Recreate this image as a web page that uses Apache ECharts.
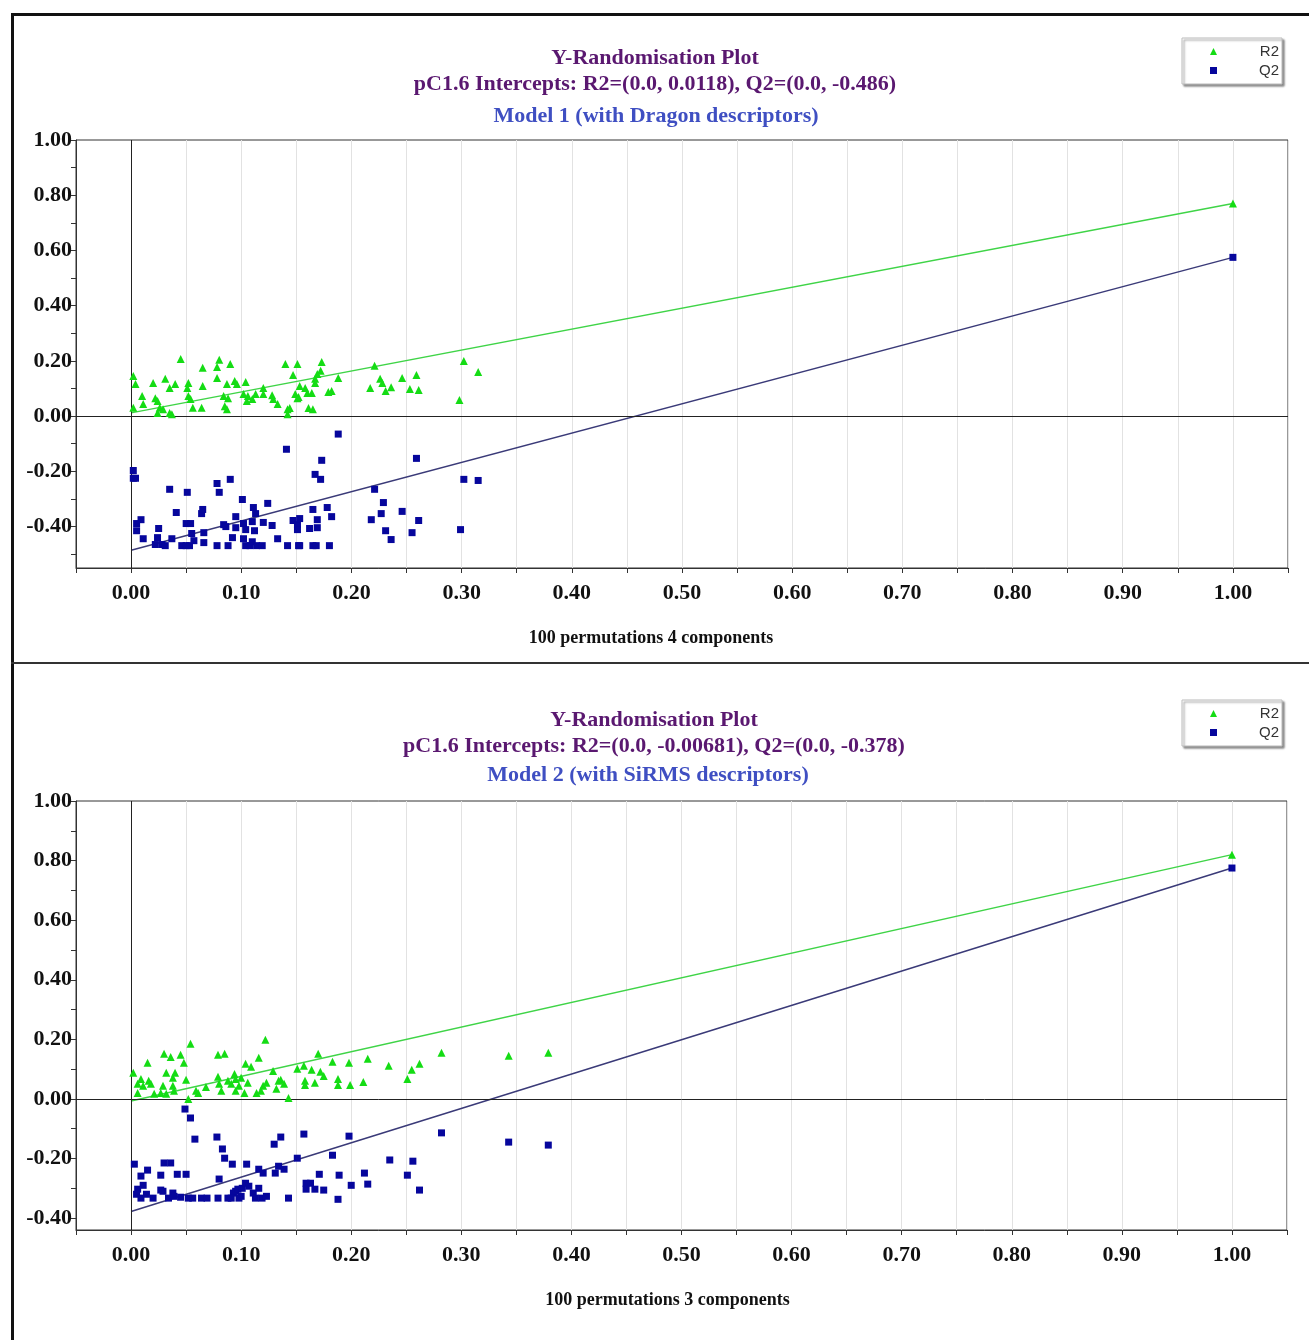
<!DOCTYPE html>
<html>
<head>
<meta charset="utf-8">
<script src="https://cdn.jsdelivr.net/npm/echarts@6/dist/echarts.min.js"></script>
<style>
  html, body { margin: 0; padding: 0; background: #fff; }
  #main { width: 1309px; height: 1340px; }
</style>
</head>
<body>
<div id="main"></div>
<script>
// --- data ---
const yLabelsTop = [-0.4, -0.2, 0, 0.2, 0.4, 0.6, 0.8, 1.0]
const yTicksTop = [-0.5, -0.4, -0.3, -0.2, -0.1, 0, 0.1, 0.2, 0.3, 0.4, 0.5, 0.6, 0.7, 0.8, 0.9, 1.0]
const yLabelsBottom = [-0.4, -0.2, 0, 0.2, 0.4, 0.6, 0.8, 1.0]
const yTicksBottom = [-0.4, -0.3, -0.2, -0.1, 0, 0.1, 0.2, 0.3, 0.4, 0.5, 0.6, 0.7, 0.8, 0.9, 1.0]

// model 1 (Dragon): intercepts and original model values
const r2InterceptTop = 0.0118
const q2InterceptTop = -0.486
const r2OrigTop = 0.77
const q2OrigTop = 0.575
// model 2 (SiRMS)
const r2InterceptBottom = -0.00681
const q2InterceptBottom = -0.378
const r2OrigBottom = 0.82
const q2OrigBottom = 0.775

const r2Top = [[0.002,0.145],[0.004,0.116],[0.045,0.207],[0.080,0.204],[0.090,0.189],[0.065,0.175],[0.078,0.178],[0.078,0.138],[0.031,0.135],[0.020,0.120],[0.040,0.116],[0.035,0.102],[0.052,0.120],[0.051,0.102],[0.065,0.109],[0.087,0.116],[0.094,0.127],[0.096,0.116],[0.104,0.124],[0.120,0.102],[0.010,0.073],[0.022,0.065],[0.024,0.055],[0.011,0.044],[0.002,0.030],[0.026,0.030],[0.029,0.025],[0.035,0.011],[0.024,0.011],[0.037,0.007],[0.052,0.073],[0.054,0.062],[0.056,0.030],[0.064,0.030],[0.084,0.073],[0.088,0.065],[0.085,0.036],[0.087,0.025],[0.102,0.080],[0.106,0.073],[0.110,0.062],[0.105,0.055],[0.113,0.080],[0.120,0.080],[0.129,0.062],[0.133,0.044],[0.142,0.025],[0.144,0.029],[0.149,0.080],[0.151,0.065],[0.153,0.109],[0.158,0.102],[0.160,0.084],[0.161,0.029],[0.165,0.025],[0.140,0.189],[0.151,0.189],[0.173,0.196],[0.172,0.164],[0.169,0.153],[0.147,0.149],[0.167,0.135],[0.167,0.120],[0.188,0.138],[0.128,0.076],[0.152,0.069],[0.164,0.084],[0.179,0.087],[0.182,0.091],[0.142,0.007],[0.221,0.182],[0.226,0.135],[0.228,0.120],[0.231,0.091],[0.217,0.102],[0.236,0.105],[0.246,0.138],[0.259,0.149],[0.253,0.098],[0.261,0.095],[0.302,0.200],[0.315,0.160],[0.298,0.058]]

const q2Top = [[0.002,-0.197],[0.004,-0.225],[0.002,-0.225],[0.141,-0.120],[0.035,-0.265],[0.051,-0.276],[0.078,-0.244],[0.080,-0.276],[0.090,-0.229],[0.041,-0.349],[0.064,-0.353],[0.065,-0.338],[0.101,-0.302],[0.111,-0.331],[0.113,-0.353],[0.124,-0.316],[0.095,-0.364],[0.009,-0.375],[0.005,-0.389],[0.005,-0.415],[0.025,-0.407],[0.050,-0.389],[0.054,-0.389],[0.055,-0.425],[0.066,-0.422],[0.084,-0.393],[0.086,-0.400],[0.095,-0.404],[0.102,-0.389],[0.104,-0.411],[0.110,-0.382],[0.112,-0.415],[0.120,-0.385],[0.128,-0.396],[0.147,-0.378],[0.151,-0.393],[0.151,-0.411],[0.153,-0.371],[0.165,-0.338],[0.167,-0.211],[0.169,-0.375],[0.162,-0.407],[0.011,-0.444],[0.024,-0.440],[0.022,-0.465],[0.028,-0.465],[0.031,-0.469],[0.037,-0.444],[0.046,-0.469],[0.050,-0.469],[0.053,-0.469],[0.057,-0.451],[0.066,-0.458],[0.078,-0.469],[0.088,-0.469],[0.092,-0.440],[0.102,-0.444],[0.104,-0.469],[0.110,-0.455],[0.108,-0.469],[0.114,-0.469],[0.119,-0.469],[0.133,-0.444],[0.142,-0.469],[0.152,-0.469],[0.165,-0.469],[0.188,-0.065],[0.173,-0.160],[0.172,-0.229],[0.259,-0.153],[0.302,-0.229],[0.315,-0.233],[0.221,-0.265],[0.229,-0.313],[0.178,-0.331],[0.182,-0.364],[0.169,-0.404],[0.227,-0.353],[0.218,-0.375],[0.246,-0.345],[0.261,-0.378],[0.231,-0.415],[0.255,-0.422],[0.236,-0.447],[0.299,-0.411],[0.153,-0.469],[0.168,-0.469],[0.180,-0.469]]

const r2Bottom = [[0.002,0.088],[0.054,0.185],[0.030,0.152],[0.036,0.141],[0.045,0.148],[0.048,0.121],[0.015,0.121],[0.040,0.088],[0.032,0.088],[0.038,0.071],[0.050,0.064],[0.009,0.067],[0.016,0.061],[0.006,0.051],[0.011,0.044],[0.018,0.051],[0.029,0.044],[0.038,0.044],[0.039,0.027],[0.006,0.020],[0.027,0.020],[0.032,0.017],[0.021,0.017],[0.052,0.000],[0.059,0.027],[0.061,0.020],[0.068,0.040],[0.079,0.148],[0.085,0.152],[0.079,0.074],[0.080,0.051],[0.082,0.027],[0.088,0.061],[0.091,0.051],[0.094,0.084],[0.095,0.067],[0.098,0.044],[0.095,0.027],[0.103,0.020],[0.100,0.071],[0.122,0.199],[0.116,0.138],[0.104,0.118],[0.109,0.108],[0.106,0.054],[0.114,0.020],[0.118,0.027],[0.120,0.044],[0.123,0.054],[0.129,0.094],[0.134,0.061],[0.136,0.064],[0.139,0.051],[0.132,0.034],[0.143,0.003],[0.151,0.101],[0.170,0.152],[0.157,0.111],[0.164,0.098],[0.172,0.091],[0.175,0.077],[0.158,0.061],[0.158,0.047],[0.167,0.054],[0.183,0.125],[0.188,0.067],[0.188,0.047],[0.199,0.047],[0.198,0.121],[0.211,0.057],[0.215,0.135],[0.234,0.111],[0.255,0.098],[0.262,0.118],[0.251,0.067],[0.282,0.155],[0.343,0.145],[0.379,0.155]]

const q2Bottom = [[0.049,-0.034],[0.054,-0.064],[0.058,-0.135],[0.078,-0.128],[0.083,-0.168],[0.085,-0.199],[0.092,-0.219],[0.105,-0.219],[0.130,-0.152],[0.136,-0.128],[0.151,-0.199],[0.003,-0.219],[0.030,-0.215],[0.036,-0.215],[0.015,-0.239],[0.009,-0.259],[0.027,-0.256],[0.042,-0.253],[0.050,-0.253],[0.080,-0.269],[0.116,-0.236],[0.120,-0.249],[0.131,-0.249],[0.134,-0.226],[0.139,-0.236],[0.011,-0.290],[0.006,-0.303],[0.027,-0.306],[0.029,-0.310],[0.014,-0.320],[0.005,-0.320],[0.038,-0.316],[0.039,-0.327],[0.034,-0.333],[0.045,-0.330],[0.020,-0.333],[0.009,-0.333],[0.052,-0.333],[0.056,-0.333],[0.064,-0.333],[0.069,-0.333],[0.079,-0.333],[0.088,-0.333],[0.093,-0.316],[0.095,-0.310],[0.097,-0.303],[0.101,-0.300],[0.104,-0.283],[0.107,-0.293],[0.100,-0.327],[0.091,-0.333],[0.098,-0.333],[0.111,-0.316],[0.116,-0.300],[0.113,-0.333],[0.119,-0.333],[0.123,-0.327],[0.143,-0.333],[0.157,-0.118],[0.198,-0.125],[0.282,-0.114],[0.343,-0.145],[0.379,-0.155],[0.183,-0.189],[0.235,-0.205],[0.256,-0.209],[0.171,-0.253],[0.189,-0.256],[0.212,-0.249],[0.251,-0.256],[0.159,-0.283],[0.163,-0.283],[0.159,-0.303],[0.167,-0.303],[0.175,-0.306],[0.200,-0.290],[0.215,-0.286],[0.188,-0.337],[0.262,-0.306]]

// --- styles ---
const serif = '"Liberation Serif", "Times New Roman", serif'
const green = '#14dc14'
const blue = '#06069c'
const purple = '#5a1870'
const modelBlue = '#3f4fc2'

function xAxisFor (gridIndex, name, shift) {
  return {
    gridIndex: gridIndex,
    type: 'value',
    min: -0.05,
    max: 1.05,
    interval: 0.05,
    name: name,
    nameLocation: 'middle',
    nameGap: 61,
    nameTextStyle: { fontFamily: serif, fontWeight: 'bold', fontSize: 18, color: '#111', padding: [0, shift, 0, 0] },
    axisLine: { show: true, onZero: false, lineStyle: { color: '#333', width: 1 } },
    axisTick: { show: true, inside: false, length: 5, lineStyle: { color: '#333' } },
    axisLabel: {
      margin: 14,
      fontFamily: serif,
      fontWeight: 'bold',
      fontSize: 22,
      color: '#111',
      formatter: function (v) {
        const k = Math.round(v * 100)
        if (k < 0 || k > 100 || k % 10 !== 0) return ''
        return (k / 100).toFixed(2)
      }
    },
    splitLine: { show: true, lineStyle: { color: '#e2e2e2', width: 1 } }
  }
}

function yAxisFor (gridIndex, min, labels, ticks) {
  return {
    gridIndex: gridIndex,
    type: 'value',
    min: min,
    max: 1.0,
    axisLine: { show: true, onZero: false, lineStyle: { color: '#333', width: 1 } },
    axisTick: { show: true, length: 5, customValues: ticks, lineStyle: { color: '#333' } },
    axisLabel: {
      customValues: labels,
      margin: 4,
      fontFamily: serif,
      fontWeight: 'bold',
      fontSize: 22,
      color: '#111',
      formatter: function (v) { return v.toFixed(2) }
    },
    splitLine: { show: false }
  }
}

function panelSeries (idx, r2Pts, q2Pts, r2Int, q2Int, r2Orig, q2Orig) {
  return [
    {
      type: 'line',
      name: 'R2 fit',
      xAxisIndex: idx,
      yAxisIndex: idx,
      data: [[0, r2Int], [1, r2Orig]],
      showSymbol: false,
      silent: true,
      lineStyle: { color: '#3fd447', width: 1.5 },
      z: 3
    },
    {
      type: 'line',
      name: 'Q2 fit',
      xAxisIndex: idx,
      yAxisIndex: idx,
      data: [[0, q2Int], [1, q2Orig]],
      showSymbol: false,
      silent: true,
      lineStyle: { color: '#3a3a78', width: 1.5 },
      z: 3,
      markLine: {
        silent: true,
        symbol: 'none',
        label: { show: false },
        lineStyle: { color: '#222', width: 1, type: 'solid' },
        data: [{ xAxis: 0 }, { yAxis: 0 }]
      }
    },
    {
      type: 'scatter',
      name: 'R2',
      xAxisIndex: idx,
      yAxisIndex: idx,
      symbol: 'triangle',
      symbolSize: 8,
      itemStyle: { color: green, opacity: 1 },
      data: r2Pts.concat([[1, r2Orig]]),
      z: 5
    },
    {
      type: 'scatter',
      name: 'Q2',
      xAxisIndex: idx,
      yAxisIndex: idx,
      symbol: 'rect',
      symbolSize: 7,
      itemStyle: { color: blue, opacity: 1 },
      data: q2Pts.concat([[1, q2Orig]]),
      z: 5
    }
  ]
}

function legendAt (top) {
  return {
    data: [{ name: 'R2', icon: 'triangle' }, { name: 'Q2', icon: 'rect' }],
    orient: 'vertical',
    left: 1182,
    top: top,
    itemWidth: 7,
    itemHeight: 7,
    itemGap: 4,
    padding: [6, 3, 6, 28],
    backgroundColor: '#fff',
    borderColor: '#bdbdbd',
    borderWidth: 1,
    shadowColor: 'rgba(0,0,0,0.45)',
    shadowBlur: 2,
    shadowOffsetX: 2,
    shadowOffsetY: 2,
    selectedMode: false,
    formatter: '{t|{name}}',
    textStyle: {
      rich: {
        t: { fontFamily: '"Liberation Sans", Arial, sans-serif', fontSize: 15, color: '#333', width: 57, align: 'right', lineHeight: 16 }
      }
    }
  }
}

function titleAt (text, left, top, color, size) {
  return {
    text: text,
    left: left,
    top: top,
    textAlign: 'center',
    textStyle: { fontFamily: serif, fontWeight: 'bold', fontSize: size, color: color }
  }
}

const chart = echarts.init(document.getElementById('main'))
chart.setOption({
  backgroundColor: '#fff',
  animation: false,
  title: [
    titleAt('Y-Randomisation Plot', 650, 42, purple, 22),
    titleAt('pC1.6 Intercepts: R2=(0.0, 0.0118), Q2=(0.0, -0.486)', 650, 68, purple, 22),
    titleAt('Model 1 (with Dragon descriptors)', 651, 100, modelBlue, 22),
    titleAt('Y-Randomisation Plot', 649, 704, purple, 22),
    titleAt('pC1.6 Intercepts: R2=(0.0, -0.00681), Q2=(0.0, -0.378)', 649, 730, purple, 22),
    titleAt('Model 2 (with SiRMS descriptors)', 643, 759, modelBlue, 22)
  ],
  legend: [legendAt(38), legendAt(700)],
  grid: [
    { left: 76, right: 21, top: 140, height: 428, show: true, borderColor: '#333', borderWidth: 1, backgroundColor: '#fff' },
    { left: 76, right: 22, top: 801, height: 429, show: true, borderColor: '#333', borderWidth: 1, backgroundColor: '#fff' }
  ],
  xAxis: [
    xAxisFor(0, '100 permutations 4 components', 62),
    xAxisFor(1, '100 permutations 3 components', 28)
  ],
  yAxis: [
    yAxisFor(0, -0.55, yLabelsTop, yTicksTop),
    yAxisFor(1, -0.44, yLabelsBottom, yTicksBottom)
  ],
  graphic: [
    { type: 'rect', shape: { x: 11, y: 13, width: 1300, height: 3 }, style: { fill: '#111' }, silent: true },
    { type: 'rect', shape: { x: 11, y: 13, width: 3, height: 1330 }, style: { fill: '#111' }, silent: true },
    { type: 'rect', shape: { x: 11, y: 662, width: 1300, height: 2 }, style: { fill: '#333' }, silent: true }
  ],
  series: []
    .concat(panelSeries(0, r2Top, q2Top, r2InterceptTop, q2InterceptTop, r2OrigTop, q2OrigTop))
    .concat(panelSeries(1, r2Bottom, q2Bottom, r2InterceptBottom, q2InterceptBottom, r2OrigBottom, q2OrigBottom))
})
</script>
</body>
</html>
